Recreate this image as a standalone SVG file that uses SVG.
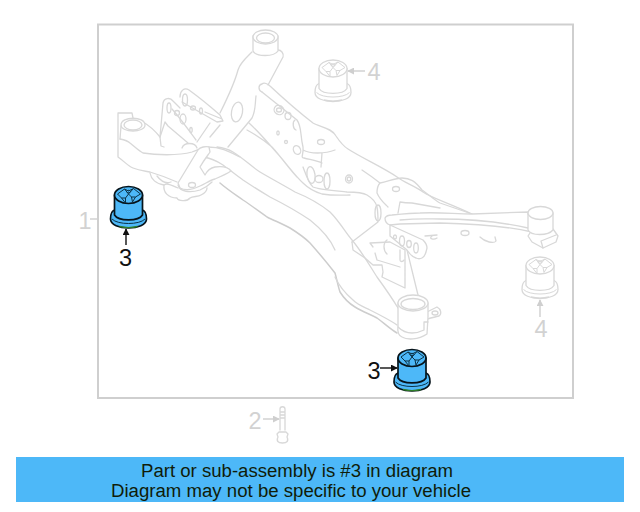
<svg xmlns="http://www.w3.org/2000/svg" width="640" height="512" viewBox="0 0 640 512">
<style>
.g{fill:none;stroke:#d8d8d8;stroke-width:1.3;stroke-linejoin:round;stroke-linecap:round}
.w{fill:#fff;stroke:#d8d8d8;stroke-width:1.3;stroke-linejoin:round;stroke-linecap:round}
.n{font-family:"Liberation Sans",Arial,sans-serif;font-size:23.500px;text-anchor:middle}
.k{fill:#111}.l{fill:#d2d2d2}
.b{font-family:"Liberation Sans",Arial,sans-serif;font-size:18px;fill:#101c08}
.ln{fill:none;stroke-width:1.4}
.blue{--f:#4db8f8;--s:#07141b;--d:#0c3347;--e:#2f7d2a;--w:1.7}
.gray{--f:#fff;--s:#d8d8d8;--d:#d8d8d8;--e:#d8d8d8;--w:1.3}
.f{fill:var(--f);stroke:var(--s);stroke-width:var(--w);stroke-linejoin:round}
.d{fill:none;stroke:var(--d);stroke-width:1;stroke-linejoin:round}
.e{fill:none;stroke:var(--e);stroke-width:1.4}
</style>
<defs>
<g id="bush">
<path class="f" d="M-14,15C-17,16 -18,20 -18,24C-18,30 -9,33 0,33C9,33 18,30 18,24C18,20 17,16 14,15Z"/>
<path class="d" d="M-16.500,24C-11,30 11,30 16.500,24"/>
<path class="e" d="M-9,31.500C-3,33 3,33 9,31.500"/>
<path class="f" d="M-14,0V20C-10,26.500 10,26.500 14,20V0Z"/>
<ellipse class="f" cx="0" cy="0" rx="14" ry="8.500"/>
<path class="d" d="M-11,-1L-4,-6L0,-4L5,-6.500L12,-1L7,2L4,7M-11,-1L-7,3L-3,8M-4,-6L0,-1L5,-6.500M0,-1L-3,3L-7,3M0,-1L3,2L7,2M4,7L3,2M-3,8L-3,3"/>
<ellipse class="d" cx="0" cy="-3.500" rx="2" ry="1.200"/>
</g>
<marker id="ak" viewBox="0 0 8 8" refX="7" refY="4" markerWidth="7" markerHeight="7" markerUnits="userSpaceOnUse" orient="auto"><path d="M0,0L8,4L0,8Z" fill="#111"/></marker>
<marker id="al" viewBox="0 0 8 8" refX="7" refY="4" markerWidth="7" markerHeight="7" markerUnits="userSpaceOnUse" orient="auto"><path d="M0,0L8,4L0,8Z" fill="#cfcfcf"/></marker>
</defs>
<rect x="98" y="24.500" width="475" height="373.500" fill="none" stroke="#cfcfcf" stroke-width="2"/>
<g id="subframe">
<path class="g" d="M150,173C151,179 156,184 164,185C163,192 168,198 177,198C178,201 187,202 190,198C193,196 198,197 201,195C205,193 207,190 207,188"/>
<path class="g" d="M157,176C160,180 165,184 171,182M164,185C168,182 172,186 178,188"/>
<path class="g" d="M220,113C228,97 234,85 238,70C240,63 246,58 252,52"/>
<path class="g" d="M278,50C281,50 284,53 283,57L268,85"/>
<path class="g" d="M210,137L220,125M256,96C255,103 256,110 252,118L228,147"/>
<ellipse class="g" cx="237" cy="112" rx="5.500" ry="10" transform="rotate(10 237 112)"/>
<path class="w" d="M253,36V51C256,57 274,57 278,51V36Z"/>
<ellipse class="w" cx="265.500" cy="37" rx="12.500" ry="7"/>
<ellipse class="g" cx="265.500" cy="38" rx="9" ry="5"/>
<path class="g" d="M160,137L163,103C164,98 170,97 173,101L180,108"/>
<path class="g" d="M165,122L168,126L188,143M160,137L165,122"/>
<path class="g" d="M180,97C180,91 184,87 189,90C200,98 212,108 220,115L223,121L217,122L182,102M210,123L197,142M205,112L222,119"/>
<path class="g" d="M172,109C180,118 185,125 196,140"/>
<path class="g" d="M182,148C184,142 195,142 197,148"/>
<ellipse class="g" cx="169" cy="108" rx="2" ry="5"/><ellipse class="g" cx="177" cy="113" rx="2.500" ry="2.500"/><ellipse class="g" cx="183" cy="119" rx="3" ry="5"/><ellipse class="g" cx="191" cy="130" rx="1.200" ry="2.500"/>
<ellipse class="g" cx="185" cy="100" rx="2.500" ry="6"/><ellipse class="g" cx="193" cy="108" rx="2.500" ry="2"/><ellipse class="g" cx="201" cy="111" rx="1.500" ry="3"/>
<path class="g" d="M133,118L132,113H118V157C125,162 128,166 133,168C140,171 146,171 150,172C160,175 168,178 177,182"/>
<path class="g" d="M143,122C150,126 156,132 160,137L161,146L164,147"/>
<path class="g" d="M120,139C125,140 128,141 130,143C135,147 139,151 143,153C155,155 178,156 192,152C198,150 203,147 208,147C222,147 230,152 240,157"/>
<path class="w" d="M121,125C121,116 145,116 145,125C145,133 121,133 121,125Z"/>
<path class="g" d="M121,126L120,139"/>
<ellipse class="g" cx="133" cy="125" rx="9" ry="5"/>
<path class="g" d="M262,92C258,90 258,85 262,84C264,82 268,84 270,86C285,100 300,113 313,123C320,127 332,128 336,136C340,142 343,146 348,149C362,158 384,168 397,177C405,183 413,185 423,192C432,198 446,202 472,214"/>
<path class="g" d="M262,92C272,100 287,112 297,120C302,127 300,135 303,147C304,154 300,158 304,158C312,160 318,161 322,163M303,150C310,154 325,154 335,150M322,153L321,167"/>
<path class="g" d="M249,123C260,133 268,143 277,153C286,163 295,176 303,183C308,188 312,191 322,194C335,196 345,195 350,195M247,130C258,136 266,142 272,147C282,158 290,170 297,177"/>
<path class="g" d="M303,167C306,175 309,184 313,187C320,190 340,191 347,192C355,192 362,192 367,195C372,198 376,202 377,207C378,212 378,217 378,222L352,242"/>
<path class="g" d="M380,183C377,186 377,190 377,193C380,200 384,203 388,207M362,170C368,174 375,179 380,183C389,181 396,178 402,178C410,178 415,181 422,190C428,194 436,201 440,203L472,214"/>
<ellipse class="g" cx="279" cy="110" rx="5" ry="4.500" transform="rotate(30 279 110)"/><ellipse class="g" cx="279" cy="110" rx="2.500" ry="2"/>
<ellipse class="g" cx="288" cy="116" rx="3" ry="3.500"/>
<path class="g" d="M295,120C292,122 293,129 296,130"/>
<ellipse class="g" cx="278" cy="133" rx="1.200" ry="2"/>
<ellipse class="g" cx="286" cy="142" rx="1.500" ry="1.500"/>
<ellipse class="g" cx="297" cy="150" rx="3.500" ry="4.500" transform="rotate(-25 297 150)"/>
<ellipse class="g" cx="321" cy="142" rx="3.500" ry="2.500"/>
<ellipse class="g" cx="311" cy="175" rx="4" ry="8.500" transform="rotate(-8 311 175)"/>
<ellipse class="g" cx="319" cy="179" rx="4" ry="3.500"/>
<ellipse class="g" cx="327" cy="181" rx="3" ry="8"/>
<ellipse class="g" cx="349" cy="179" rx="3.500" ry="4"/><ellipse class="g" cx="349" cy="179" rx="1.800" ry="2"/>
<ellipse class="g" cx="396" cy="189" rx="3.500" ry="2.500"/>
<ellipse class="g" cx="378" cy="213" rx="3" ry="8"/>
<path class="g" d="M217,147C225,148 228,149 233,152C243,158 252,167 260,172C270,178 285,186 295,192C305,196 320,204 330,212C340,222 345,232 352,240C362,252 370,266 377,277C385,288 392,298 398,308"/>
<path class="g" d="M203,157C210,158 217,161 223,165C230,170 236,175 243,180C252,186 260,191 270,197C280,202 298,212 310,220C320,228 330,238 335,250"/>
<path d="M220,183C228,190 236,195 243,200C252,206 260,212 267,217C275,221 283,224 290,228C298,233 305,238 310,243C318,252 328,264 335,273C337,280 338,286 340,292C345,300 350,304 355,307C363,312 370,314 377,318C384,323 390,329 397,333" fill="none" stroke="#cdcdcd" stroke-width="1.500" stroke-linecap="round"/>
<path class="g" d="M335,277C340,288 346,294 353,300C358,305 364,307 370,310C380,315 390,320 397,325"/>
<path class="g" d="M352,242L353,250L365,258L373,265H382L383,272L382,277L405,288V250L390,242L370,243L373,247"/>
<path class="g" d="M377,260L400,267M375,253L377,260M407,250L418,295"/>
<path class="g" d="M387,240C383,243 383,250 387,254M400,250V260C400,262 403,262 404,260"/>
<path class="w" d="M198,150C192,160 186,170 178,183L180,188C186,191 194,189 200,186C205,184 210,180 215,179C222,176 228,173 231,171C228,167 222,166 215,167C210,168 207,171 205,175L200,167C204,160 208,155 210,152L209,147C206,146 200,147 198,150Z"/>
<ellipse class="g" cx="192" cy="185" rx="3.500" ry="2.500"/>
<path class="g" d="M178,185C180,192 190,193 200,190C205,188 208,186 212,182"/>
<path class="g" d="M398,213L400,202C405,203 408,203 412,203L440,208M432,236C428,239 434,240 437,238"/>
<path class="w" d="M385,218C386,216 388,215 392,215C402,214 412,213 420,213C440,212 455,214 472,214L528,212L532,232C515,228 480,224 440,223L400,224L390,225C387,224 385,221 385,218Z"/>
<path class="g" d="M400,220C420,218 430,219 440,219C480,219 510,224 528,228"/>
<ellipse class="g" cx="465" cy="233" rx="4" ry="2.500"/>
<path class="g" d="M480,237C485,242 494,244 496,241L495,237M425,236L437,235"/>
<path class="w" d="M390,225L423,240C426,243 427,246 427,248C426,253 425,257 422,258C420,259 418,259 416,258C412,257 409,253 407,250L390,236Z"/>
<ellipse class="g" cx="395" cy="237" rx="1.500" ry="2"/><ellipse class="g" cx="402" cy="241" rx="2.500" ry="5"/><ellipse class="g" cx="409" cy="244" rx="2.300" ry="3.500"/><ellipse class="g" cx="416" cy="248" rx="2.300" ry="5"/>
<path class="w" d="M528,236L532,230L553,229L558,236L556,242L543,248L532,242Z"/>
<path class="g" d="M543,248L541,241L556,235"/>
<path class="w" d="M528,213V230C531,236 548,236 553,230V213Z"/>
<ellipse class="w" cx="540.500" cy="213" rx="12.500" ry="6.500"/>
<path class="w" d="M427,312L437,307C441,309 442,314 439,316C435,317 430,318 428,319"/>
<ellipse class="g" cx="435" cy="313" rx="3" ry="2"/>
<path class="w" d="M398,303V327C397,332 399,336 402,337C407,340 418,340 427,334L428,317V303Z"/>
<path class="g" d="M424,330V322H428M398,327C402,331 406,333 412,333C416,333 420,332 424,330"/>
<ellipse class="w" cx="413" cy="303" rx="15" ry="8"/>
<ellipse class="g" cx="413" cy="304" rx="12" ry="5.500"/>
</g>
<g id="bush-gray-top" class="gray"><use href="#bush" x="333" y="68.500"/></g>
<g id="bush-gray-right" class="gray"><use href="#bush" x="540" y="265.500"/></g>
<g id="bolt">
<path class="g" d="M280,409C280,406 285,406 285,409V430M280,409V430M280,412H285M280,415H285M280,418H285"/>
<path class="g" d="M279,432L277,434L278,437C276,441 278,443 282.500,443C287,443 289,441 287,437L288,434L286,432Z"/>
</g>
<g id="bush-blue-left" class="blue"><use href="#bush" x="128.500" y="195"/></g>
<g id="bush-blue-right" class="blue"><use href="#bush" x="412" y="358"/></g>
<g id="connectors">
<path class="ln" stroke="#cfcfcf" d="M98,219H90"/>
<path class="ln" stroke="#111" marker-end="url(#ak)" d="M126,245V229"/>
<path class="ln" stroke="#111" marker-end="url(#ak)" d="M380,368H397"/>
<path class="ln" stroke="#cfcfcf" marker-end="url(#al)" d="M365,71H348"/>
<path class="ln" stroke="#cfcfcf" marker-end="url(#al)" d="M540,317V300"/>
<path class="ln" stroke="#cfcfcf" marker-end="url(#al)" d="M263,419H279"/>
</g>
<g id="labels">
<text class="n l" x="85" y="229">1</text>
<text class="n k" x="125.500" y="265.500">3</text>
<text class="n k" x="374" y="378.500">3</text>
<text class="n l" x="374" y="80">4</text>
<text class="n l" x="541" y="337">4</text>
<text class="n l" x="255" y="429">2</text>
</g>
<rect id="banner" x="16" y="457" width="608" height="45" fill="#4db8f8"/>
<text class="b" x="141" y="477" textLength="312" lengthAdjust="spacingAndGlyphs">Part or sub-assembly is #3 in diagram</text>
<text class="b" x="111" y="497" textLength="360" lengthAdjust="spacingAndGlyphs">Diagram may not be specific to your vehicle</text>
</svg>
